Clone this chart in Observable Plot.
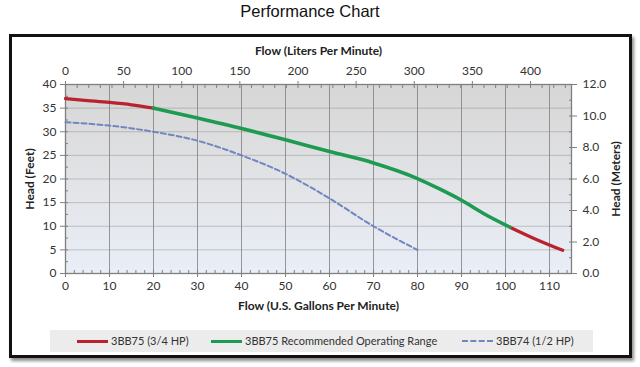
<!DOCTYPE html>
<html>
<head>
<meta charset="utf-8">
<script src="https://cdn.jsdelivr.net/npm/d3@7"></script>
<script src="https://cdn.jsdelivr.net/npm/@observablehq/plot@0.6"></script>
<style>
  html, body { margin:0; padding:0; background:#fff; }
  #page { position:relative; width:640px; height:367px; overflow:hidden; font-family:Lato, "Open Sans", sans-serif; }
  #title { position:absolute; left:0; width:620px; top:2px; text-align:center; font-family:"Liberation Sans", Arial, sans-serif; font-size:16.5px; color:#111; }
  #frame { position:absolute; left:9px; top:34px; width:617px; height:318px; border:3px solid #111; box-shadow:2px 3px 3px rgba(0,0,0,0.45); background:#fff; }
  #chart { position:absolute; left:10px; top:37px; }
  #chart g[aria-label$="axis label"] text { font-weight:bold; fill:#222; }
  #legend { position:absolute; left:50px; top:330px; width:543px; height:22px; background:#ececec; font-size:11px; color:#333; }
  .li { position:absolute; top:0; height:22px; line-height:22px; white-space:nowrap; }
  .sw { position:absolute; top:10px; width:31px; height:0; }
</style>
</head>
<body>
<div id="page">
  <div id="title">Performance Chart</div>
  <div id="frame"></div>
  <div id="chart"></div>
  <div id="legend"></div>
</div>
<script>
// --- data ---
const seriesNames = ["3BB75 (3/4 HP)", "3BB75 Recommended Operating Range", "3BB74 (1/2 HP)"];
const seriesColors = ["#b8232e", "#1f9a52", "#7086c0"];

// 3BB75 (3/4 HP) below recommended range
const redLowFlow = [0, 5, 10, 15, 20];
const redLowHead = [37, 36.6, 36.2, 35.7, 35];
// 3BB75 recommended operating range
const greenFlow = [20, 30, 40, 50, 60, 70, 80, 85, 90, 95, 101];
const greenHead = [35, 32.9, 30.7, 28.3, 25.8, 23.4, 20.1, 17.9, 15.5, 12.7, 9.8];
// 3BB75 (3/4 HP) above recommended range
const redHighFlow = [101, 107, 113];
const redHighHead = [9.8, 7.2, 4.9];
// 3BB74 (1/2 HP)
const blueFlow = [0, 10, 20, 30, 40, 50, 60, 70, 80];
const blueHead = [32, 31.3, 30, 28.1, 25, 21.1, 15.9, 10, 5];

// axis ticks
const gpmTicks = [0, 10, 20, 30, 40, 50, 60, 70, 80, 90, 100, 110];
const gpmMinor = d3.range(0, 116, 2);
const lpmTicks = [0, 50, 100, 150, 200, 250, 300, 350, 400];
const lpmMinor = d3.range(0, 431, 10);
const feetTicks = [0, 5, 10, 15, 20, 25, 30, 35, 40];
const feetMinor = d3.range(0, 40.1, 2.5);
const meterTicks = [0, 2, 4, 6, 8, 10, 12];
const meterMinor = d3.range(0, 12.1, 1);

const LPG = 3.785;       // liters per gallon
const FT_PER_M_AXIS = 40 / 12; // right axis spans same height as 0–40 ft

const toRows = (xs, ys, s) => xs.map((x, i) => ({flow: x, head: ys[i], s}));
const redLow = toRows(redLowFlow, redLowHead, 0);
const green = toRows(greenFlow, greenHead, 1);
const redHigh = toRows(redHighFlow, redHighHead, 0);
const blue = toRows(blueFlow, blueHead, 2);

const axisColor = "#7f7f7f";
const chart = Plot.plot({
  width: 620,
  height: 292,
  marginLeft: 55,
  marginRight: 59,
  marginTop: 47,
  marginBottom: 56,
  x: {domain: [0, 115]},
  y: {domain: [0, 40]},
  style: {fontFamily: "Lato, 'Open Sans', sans-serif", fontSize: "12px", color: "#333", background: "transparent", overflow: "visible"},
  marks: [
    Plot.frame({fill: "url(#bgGrad)", stroke: "none"}),
    Plot.gridX(gpmTicks, {stroke: "#808080", strokeOpacity: 0.8, strokeWidth: 1}),
    Plot.gridY(feetTicks, {stroke: "#8a8a8a", strokeOpacity: 0.45, strokeWidth: 1}),
    Plot.frame({stroke: axisColor, strokeWidth: 1.3}),
    // minor ticks
    Plot.axisX({anchor: "bottom", ticks: gpmMinor, tickSize: -3, tickFormat: () => "", stroke: axisColor, label: null}),
    Plot.axisX({anchor: "top", ticks: lpmMinor.map(l => l / LPG), tickSize: -3, tickFormat: () => "", stroke: axisColor, label: null}),
    Plot.axisY({anchor: "left", ticks: feetMinor, tickSize: -3, tickFormat: () => "", stroke: axisColor, label: null}),
    Plot.axisY({anchor: "right", ticks: meterMinor.map(m => m * FT_PER_M_AXIS), tickSize: -3, tickFormat: () => "", stroke: axisColor, label: null}),
    // major axes
    Plot.axisX({anchor: "bottom", ticks: gpmTicks, tickSize: 4, tickPadding: 4, stroke: axisColor,
      label: "Flow (U.S. Gallons Per Minute)", labelAnchor: "center", labelArrow: "none", labelOffset: 36}),
    Plot.axisX({anchor: "top", ticks: lpmTicks.map(l => l / LPG), tickFormat: d => String(Math.round(d * LPG)),
      tickSize: 4, tickPadding: 6, stroke: axisColor,
      label: "Flow (Liters Per Minute)", labelAnchor: "center", labelArrow: "none", labelOffset: 38}),
    Plot.axisY({anchor: "left", ticks: feetTicks, tickSize: 5, tickPadding: 4, stroke: axisColor,
      label: "Head (Feet)", labelAnchor: "center", labelArrow: "none", labelOffset: 40}),
    Plot.axisY({anchor: "right", ticks: meterTicks.map(m => m * FT_PER_M_AXIS), tickFormat: d => (d / FT_PER_M_AXIS).toFixed(1),
      tickSize: 5, tickPadding: 6, stroke: axisColor,
      label: "Head (Meters)", labelAnchor: "center", labelArrow: "none", labelOffset: 48}),
    // series
    Plot.line(blue, {x: "flow", y: "head", stroke: seriesColors[2], strokeWidth: 2, strokeDasharray: "5,3", curve: "monotone-x"}),
    Plot.line(redLow, {x: "flow", y: "head", stroke: seriesColors[0], strokeWidth: 3.2, curve: "monotone-x"}),
    Plot.line(redHigh, {x: "flow", y: "head", stroke: seriesColors[0], strokeWidth: 3.2, curve: "monotone-x"}),
    Plot.line(green, {x: "flow", y: "head", stroke: seriesColors[1], strokeWidth: 3.6, curve: "monotone-x"})
  ]
});

// gradient background for the plot area
const defs = document.createElementNS("http://www.w3.org/2000/svg", "defs");
defs.innerHTML = `<linearGradient id="bgGrad" x1="0" y1="0" x2="0" y2="1">
  <stop offset="0" stop-color="#d6d6d6"/>
  <stop offset="0.5" stop-color="#e2e3e6"/>
  <stop offset="1" stop-color="#e9eef7"/>
</linearGradient>`;
chart.insertBefore(defs, chart.firstChild);
document.getElementById("chart").appendChild(chart);

// legend
const legend = document.getElementById("legend");
const legendPos = [[27, 61], [161, 195], [412, 446]];
seriesNames.forEach((name, i) => {
  const sw = document.createElement("div");
  sw.className = "sw";
  sw.style.left = legendPos[i][0] + "px";
  sw.style.borderTop = i === 2 ? `2px dashed ${seriesColors[i]}` : `3px solid ${seriesColors[i]}`;
  if (i !== 2) sw.style.top = "9.5px";
  legend.appendChild(sw);
  const t = document.createElement("div");
  t.className = "li";
  t.style.left = legendPos[i][1] + "px";
  t.textContent = name;
  legend.appendChild(t);
});
</script>
</body>
</html>
